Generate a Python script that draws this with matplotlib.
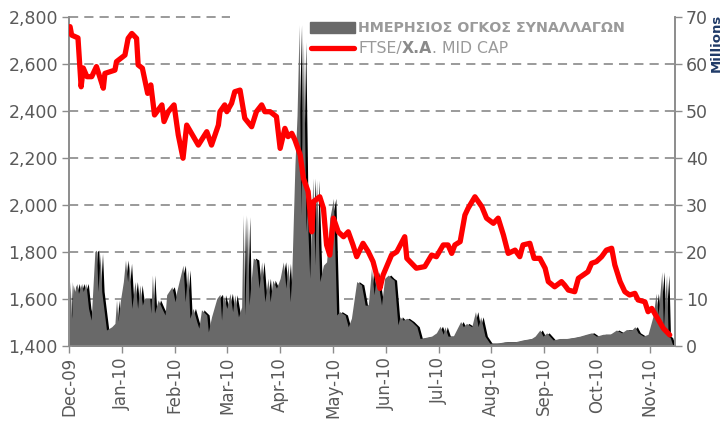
import matplotlib
matplotlib.use("Agg")
import matplotlib.pyplot as plt
import numpy as np
from matplotlib.patches import Rectangle
from matplotlib.lines import Line2D

# ---------------- DATA ----------------
# time in months since 1 Dec 2009 (axis is evenly spaced by month)
months = ["Dec-09", "Jan-10", "Feb-10", "Mar-10", "Apr-10", "May-10", "Jun-10",
          "Jul-10", "Aug-10", "Sep-10", "Oct-10", "Nov-10"]

idx_t = [0.02, 0.05, 0.17, 0.23, 0.27, 0.34, 0.43, 0.52, 0.59, 0.65, 0.68, 0.87, 0.90,
         1.06, 1.12, 1.19, 1.28, 1.31, 1.39, 1.49, 1.55, 1.62, 1.76, 1.80, 1.88, 1.99,
         2.07, 2.16, 2.23, 2.45, 2.61, 2.70, 2.83, 2.86, 2.95, 2.99, 3.08, 3.14, 3.24,
         3.33, 3.46, 3.55, 3.65, 3.71, 3.81, 3.93, 4.00, 4.09, 4.15, 4.22, 4.28, 4.38,
         4.44, 4.53, 4.60, 4.63, 4.75, 4.82, 4.88, 4.94, 5.01, 5.10, 5.20, 5.29, 5.38,
         5.45, 5.57, 5.67, 5.76, 5.86, 5.89, 5.95, 6.11, 6.21, 6.36, 6.40, 6.58, 6.74,
         6.87, 6.96, 7.09, 7.18, 7.25, 7.31, 7.41, 7.50, 7.56, 7.69, 7.82, 7.91, 8.04,
         8.13, 8.23, 8.32, 8.45, 8.54, 8.60, 8.73, 8.81, 8.92, 9.02, 9.08, 9.20, 9.33,
         9.39, 9.46, 9.58, 9.65, 9.74, 9.83, 9.90, 9.99, 10.09, 10.18, 10.28, 10.34,
         10.44, 10.53, 10.62, 10.72, 10.78, 10.91, 10.97, 11.04, 11.13, 11.26, 11.38]
idx_val = [2759, 2723, 2711, 2503, 2583, 2546, 2546, 2589, 2540, 2497, 2560, 2574, 2610,
           2638, 2709, 2730, 2709, 2596, 2582, 2475, 2511, 2383, 2426, 2355, 2397, 2426,
           2298, 2199, 2340, 2255, 2312, 2255, 2340, 2397, 2426, 2397, 2433, 2482, 2489,
           2369, 2333, 2397, 2426, 2397, 2397, 2376, 2241, 2326, 2291, 2305, 2277, 2213,
           2114, 2057, 1886, 2014, 2035, 1986, 1830, 1787, 1944, 1886, 1865, 1886, 1830,
           1780, 1837, 1801, 1759, 1674, 1645, 1702, 1787, 1801, 1865, 1773, 1731, 1738,
           1787, 1780, 1830, 1830, 1794, 1830, 1844, 1957, 1986, 2035, 1993, 1944, 1922,
           1944, 1872, 1794, 1808, 1780, 1830, 1837, 1773, 1773, 1731, 1674, 1652, 1674,
           1659, 1638, 1631, 1688, 1702, 1716, 1752, 1759, 1780, 1808, 1816, 1745,
           1674, 1631, 1617, 1624, 1596, 1588, 1546, 1560, 1525, 1475, 1447]

vol_t = [0.00, 0.02, 0.05, 0.08, 0.11, 0.15, 0.18, 0.24, 0.27, 0.32, 0.37, 0.42, 0.49,
         0.52, 0.55, 0.59, 0.62, 0.71, 0.81, 0.87, 0.90, 0.93, 0.97, 1.03, 1.07, 1.11,
         1.14, 1.19, 1.25, 1.30, 1.34, 1.39, 1.43, 1.53, 1.55, 1.58, 1.62, 1.69, 1.76,
         1.82, 1.85, 1.95, 2.01, 2.04, 2.10, 2.16, 2.20, 2.25, 2.29, 2.35, 2.42, 2.46,
         2.51, 2.61, 2.64, 2.70, 2.80, 2.86, 2.89, 2.92, 2.99, 3.05, 3.10, 3.14, 3.21,
         3.27, 3.30, 3.33, 3.38, 3.41, 3.49, 3.55, 3.60, 3.65, 3.71, 3.77, 3.81, 3.86,
         3.93, 4.00, 4.06, 4.11, 4.15, 4.19, 4.22, 4.28, 4.32, 4.36, 4.39, 4.44, 4.49,
         4.51, 4.56, 4.62, 4.66, 4.69, 4.75, 4.82, 4.88, 4.94, 5.01, 5.07, 5.13, 5.23,
         5.29, 5.35, 5.45, 5.54, 5.61, 5.67, 5.73, 5.78, 5.83, 5.88, 5.92, 5.98, 6.05,
         6.11, 6.16, 6.23, 6.27, 6.33, 6.40, 6.49, 6.59, 6.65, 6.74, 6.87, 6.96, 7.03,
         7.09, 7.12, 7.18, 7.28, 7.37, 7.42, 7.47, 7.53, 7.63, 7.70, 7.75, 7.80, 7.88,
         7.97, 8.10, 8.26, 8.45, 8.60, 8.76, 8.83, 8.92, 8.98, 9.05, 9.17, 9.30, 9.43,
         9.55, 9.68, 9.80, 9.90, 9.99, 10.12, 10.25, 10.37, 10.47, 10.56, 10.66, 10.72,
         10.78, 10.88, 10.97, 11.07, 11.12, 11.16, 11.23, 11.26, 11.29, 11.32, 11.35,
         11.39, 11.43, 11.46]
vol_val = [6.0, 13.7, 5.9, 13.0, 11.6, 13.3, 11.2, 13.3, 11.6, 13.3, 8.0, 5.5, 20.1,
           20.4, 11.6, 19.7, 11.6, 3.4, 4.1, 4.8, 9.8, 5.3, 9.4, 13.7, 18.3, 13.7,
           17.6, 8.0, 13.7, 8.0, 13.0, 8.7, 10.1, 10.1, 7.0, 15.1, 7.0, 9.8, 8.0,
           6.6, 10.9, 12.6, 9.4, 11.6, 14.4, 17.2, 9.4, 16.2, 5.9, 8.0, 5.2, 3.8,
           7.7, 6.6, 3.0, 6.2, 10.1, 11.0, 5.5, 10.9, 8.0, 11.2, 7.3, 10.9, 6.2,
           8.3, 27.9, 6.6, 27.5, 8.7, 18.7, 18.3, 12.3, 17.9, 9.4, 14.4, 9.4, 14.0,
           12.3, 14.4, 17.9, 12.3, 17.6, 9.4, 15.1, 38.5, 49.1, 68.3, 27.9, 64.7, 24.3,
           29.3, 14.4, 35.7, 17.2, 35.3, 13.7, 17.2, 17.9, 27.2, 31.4, 6.6, 7.3, 6.6,
           4.1, 5.9, 13.7, 13.0, 8.7, 8.7, 16.5, 10.9, 15.8, 11.6, 8.7, 14.4, 15.1,
           14.4, 14.0, 4.5, 6.2, 5.5, 5.9, 5.2, 4.1, 1.6, 1.8, 2.1, 2.8, 4.2,
           2.5, 4.1, 2.1, 2.1, 4.1, 5.2, 4.1, 4.8, 4.1, 7.3, 4.1, 6.2, 2.1,
           0.6, 0.6, 0.9, 0.9, 1.3, 1.6, 2.1, 3.4, 2.1, 2.8, 1.3, 1.6, 1.6,
           1.8, 2.1, 2.5, 2.8, 2.1, 2.5, 2.5, 3.4, 2.8, 3.5, 3.4, 4.1,
           2.8, 2.1, 2.5, 6.6, 11.2, 6.6, 15.8, 3.5, 10.1, 15.1, 2.1,
           1.8, 0.4, 0.0]

left_ticks = [1400, 1600, 1800, 2000, 2200, 2400, 2600, 2800]
right_ticks = [0, 10, 20, 30, 40, 50, 60, 70]

legend_vol = "ΗΜΕΡΗΣΙΟΣ ΟΓΚΟΣ ΣΥΝΑΛΛΑΓΩΝ"
legend_idx = ["FTSE/", "X.A", ". MID CAP"]

# ---------------- FIGURE ----------------
W, H = 725, 422
fig = plt.figure(figsize=(W / 100, H / 100), dpi=100)
L, R, B, T = 69 / W, 675 / W, 1 - 346 / H, 1 - 17 / H
ax = fig.add_axes([L, B, R - L, T - B])   # volume axis (right)
ax2 = ax.twinx()                          # price axis (left)

tick_col = "#595959"
spine_col = "#8c8c8c"
grid_col = "#7f7f7f"

xmax = 11.48
ax.set_xlim(0, xmax)
ax.set_ylim(0, 70)
ax2.set_ylim(1400, 2800)

# gridlines (behind area)
ytr = ax.get_yaxis_transform()
for v in right_ticks[1:]:
    xm = 1.0 if v < 70 else (230 - 69) / (675 - 69)
    ax.add_line(Line2D([0, xm], [v, v], transform=ytr, color=grid_col, lw=1.1,
                       linestyle=(0, (6, 4)), zorder=0.5, clip_on=False))

vt = np.array(vol_t)
vv = np.array(vol_val)
shift = 0.045
ax.fill_between(vt + shift, vv, 0, color="black", lw=0, zorder=1)
ax.fill_between(vt, vv, 0, color="#696969", lw=0, zorder=2)

ax2.plot(idx_t, idx_val, color="#ff0000", lw=3.8, solid_joinstyle="round",
         solid_capstyle="round", zorder=5)

# axes styling
ax.set_xticks(range(len(months)))
ax.set_xticklabels(months, rotation=90, fontsize=12, color=tick_col)
ax.yaxis.tick_right()
ax.set_yticks(right_ticks)
ax.set_yticklabels([str(v) for v in right_ticks], fontsize=12.5, color=tick_col)
ax2.yaxis.tick_left()
ax2.set_yticks(left_ticks)
ax2.set_yticklabels([f"{v:,}" for v in left_ticks], fontsize=12.5, color=tick_col)

for a in (ax, ax2):
    a.spines["top"].set_visible(False)
    for s in ("left", "right", "bottom"):
        a.spines[s].set_color(spine_col)
        a.spines[s].set_linewidth(1.2)
    a.tick_params(axis="both", colors=spine_col, length=5, width=1.0,
                  labelcolor=tick_col)
ax.tick_params(axis="y", pad=3)
ax2.tick_params(axis="y", pad=3)
ax.tick_params(axis="x", pad=3)
ax2.spines["bottom"].set_visible(False)

ax.set_zorder(1)
ax2.set_zorder(2)
ax2.patch.set_visible(False)

# ---------------- LEGEND (manual) ----------------
def fx(px):
    return px / W

def fy(py):
    return 1 - py / H

fig.patches.append(Rectangle((fx(310), fy(33)), 45 / W, 11 / H,
                             transform=fig.transFigure, color="#696969"))
fig.lines.append(Line2D([fx(311), fx(354)], [fy(48), fy(48)],
                        transform=fig.transFigure, color="#ff0000", lw=3.8,
                        solid_capstyle="round"))
leg_col = "#9a9a9a"
fig.text(fx(358), fy(27.5), legend_vol, fontsize=10.3, fontweight="bold",
         color=leg_col, va="center", ha="left")

fig.canvas.draw()
r = fig.canvas.get_renderer()
x0 = 358
for i, part in enumerate(legend_idx):
    t = fig.text(fx(x0), fy(48.5), part, fontsize=11.3,
                 fontweight="bold" if i == 1 else "normal",
                 color="#8a8a8a" if i == 1 else leg_col, va="center", ha="left")
    bb = t.get_window_extent(renderer=r)
    x0 += bb.width

fig.text(fx(710), fy(72), "Millions", rotation=90, fontsize=9.5,
         fontweight="bold", color="#1f3a68", ha="left", va="bottom")

fig.savefig("out.png", dpi=100)
